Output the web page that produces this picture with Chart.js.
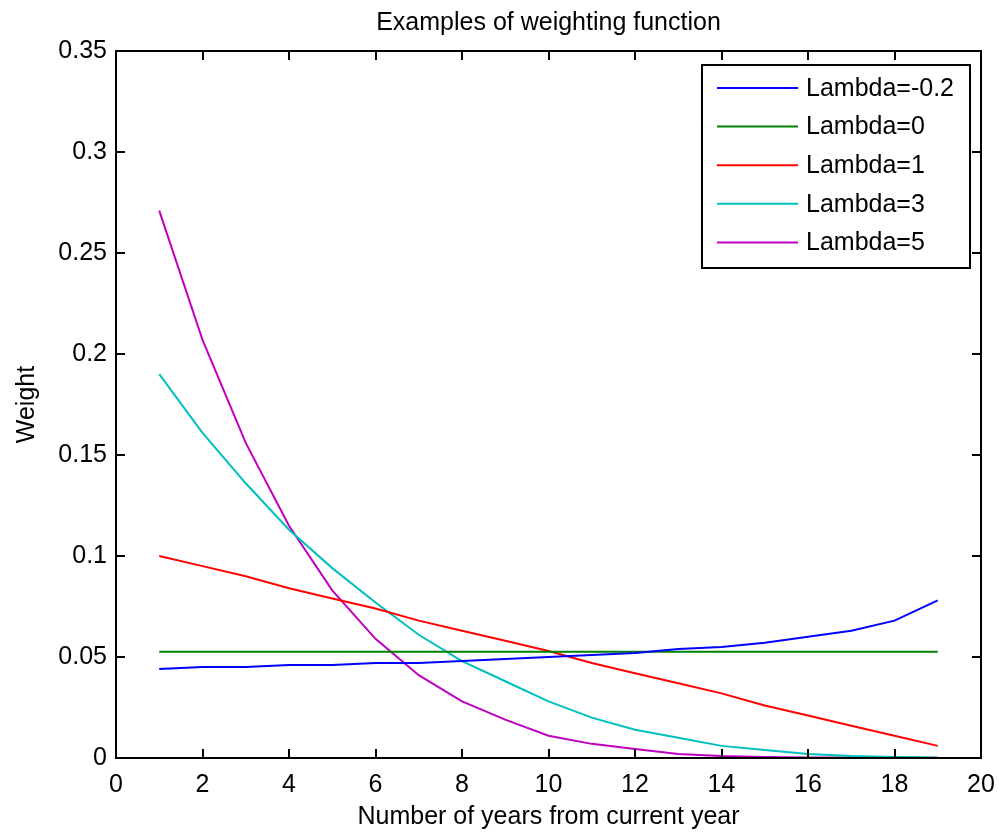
<!DOCTYPE html>
<html>
<head>
<meta charset="utf-8">
<script src="https://cdn.jsdelivr.net/npm/chart.js@4/dist/chart.umd.min.js"></script>
<style>
  body { margin: 0; background: #fff; }
  #wrap { width: 999px; height: 832px; }
</style>
</head>
<body>
<div id="wrap"><canvas id="weightChart" width="999" height="832"></canvas></div>
<script>
// years from current year
var years = [1, 2, 3, 4, 5, 6, 7, 8, 9, 10, 11, 12, 13, 14, 15, 16, 17, 18, 19];

// weights
var lambdaNeg02 = [0.044, 0.045, 0.045, 0.046, 0.046, 0.047, 0.047, 0.048, 0.049, 0.050,
                   0.051, 0.052, 0.054, 0.055, 0.057, 0.060, 0.063, 0.068, 0.078];
var lambda0 = [0.0526, 0.0526, 0.0526, 0.0526, 0.0526, 0.0526, 0.0526, 0.0526, 0.0526, 0.0526,
               0.0526, 0.0526, 0.0526, 0.0526, 0.0526, 0.0526, 0.0526, 0.0526, 0.0526];
var lambda1 = [0.100, 0.095, 0.090, 0.084, 0.079, 0.074, 0.068, 0.063, 0.058, 0.053,
               0.047, 0.042, 0.037, 0.032, 0.026, 0.021, 0.016, 0.011, 0.006];
var lambda3 = [0.190, 0.161, 0.136, 0.113, 0.094, 0.077, 0.061, 0.048, 0.038, 0.028,
               0.020, 0.014, 0.010, 0.006, 0.004, 0.002, 0.001, 0.0005, 0.0003];
var lambda5 = [0.271, 0.207, 0.156, 0.115, 0.083, 0.059, 0.041, 0.028, 0.019, 0.011,
               0.007, 0.0045, 0.002, 0.001, 0.0005, 0.0003, 0.0002, 0.0001, 0.0001];

var seriesLabels = ["Lambda=-0.2", "Lambda=0", "Lambda=1", "Lambda=3", "Lambda=5"];
var seriesColors = ["#0000ff", "#008000", "#ff0000", "#00bfbf", "#bf00bf"];
var seriesValues = [lambdaNeg02, lambda0, lambda1, lambda3, lambda5];

var FONT = "'Liberation Sans', Arial, sans-serif";
var FS = 25;

function toPoints(vals) {
    return years.map(function (yr, i) { return { x: yr, y: vals[i] }; });
}

// matlab style box, inward ticks and boxed legend
var matlabBox = {
    id: "matlabBox",
    afterDatasetsDraw: function (chart) {
        var ctx = chart.ctx;
        var a = chart.chartArea;
        var xs = chart.scales.x, ys = chart.scales.y;
        var tl = 9;
        ctx.save();
        ctx.strokeStyle = "#000";
        ctx.lineWidth = 2;
        ctx.beginPath();
        xs.ticks.forEach(function (t) {
            var px = Math.round(xs.getPixelForValue(t.value));
            ctx.moveTo(px, a.bottom); ctx.lineTo(px, a.bottom - tl);
            ctx.moveTo(px, a.top); ctx.lineTo(px, a.top + tl);
        });
        ys.ticks.forEach(function (t) {
            var py = Math.round(ys.getPixelForValue(t.value));
            ctx.moveTo(a.left, py); ctx.lineTo(a.left + tl, py);
            ctx.moveTo(a.right, py); ctx.lineTo(a.right - tl, py);
        });
        ctx.stroke();
        ctx.strokeRect(a.left, a.top, a.right - a.left, a.bottom - a.top);

        // legend
        var lx = a.right - 279, ly = a.top + 14, lw = 268, lh = 203;
        ctx.fillStyle = "#fff";
        ctx.fillRect(lx, ly, lw, lh);
        ctx.strokeRect(lx, ly, lw, lh);
        ctx.font = FS + "px " + FONT;
        ctx.textBaseline = "middle";
        ctx.textAlign = "left";
        chart.data.datasets.forEach(function (ds, i) {
            var cy = ly + 23 + i * 38.6;
            ctx.strokeStyle = ds.borderColor;
            ctx.lineWidth = 2;
            ctx.beginPath();
            ctx.moveTo(lx + 15, cy); ctx.lineTo(lx + 96, cy);
            ctx.stroke();
            ctx.fillStyle = "#000";
            ctx.fillText(ds.label, lx + 104, cy + 1);
        });
        ctx.restore();
    }
};

var ctx = document.getElementById("weightChart").getContext("2d");
var weightChart = new Chart(ctx, {
    type: "line",
    data: {
        datasets: seriesLabels.map(function (lab, i) {
            return {
                label: lab,
                data: toPoints(seriesValues[i]),
                borderColor: seriesColors[i],
                backgroundColor: seriesColors[i],
                borderWidth: 2,
                pointRadius: 0,
                tension: 0,
                fill: false
            };
        })
    },
    options: {
        responsive: false,
        animation: false,
        layout: { padding: { left: 0, right: 18, top: 0, bottom: 0 } },
        plugins: {
            legend: { display: false },
            tooltip: { enabled: false },
            title: {
                display: true,
                text: "Examples of weighting function",
                color: "#000",
                fullSize: false,
                font: { family: FONT, size: FS, weight: "normal", lineHeight: 1.2 },
                padding: { top: 8, bottom: 13 }
            }
        },
        scales: {
            x: {
                type: "linear",
                min: 0,
                max: 20,
                grid: { display: false, drawTicks: false },
                border: { display: false },
                ticks: {
                    stepSize: 2,
                    color: "#000",
                    padding: 12,
                    maxRotation: 0,
                    font: { family: FONT, size: FS }
                },
                title: {
                    display: true,
                    text: "Number of years from current year",
                    color: "#000",
                    font: { family: FONT, size: FS },
                    padding: { top: 0, bottom: 0 }
                },
                afterFit: function (s) {
                    s.height = 74;
                    s.paddingLeft = 0;
                    s.paddingRight = 0;
                }
            },
            y: {
                min: 0,
                max: 0.35,
                grid: { display: false, drawTicks: false },
                border: { display: false },
                ticks: {
                    stepSize: 0.05,
                    color: "#000",
                    padding: 9,
                    font: { family: FONT, size: FS },
                    callback: function (v) { return String(+v.toFixed(2)); }
                },
                title: {
                    display: true,
                    text: "Weight",
                    color: "#000",
                    font: { family: FONT, size: FS },
                    padding: { top: 12, bottom: 0 }
                },
                afterFit: function (s) {
                    s.width = 116;
                    s.paddingTop = 0;
                    s.paddingBottom = 0;
                }
            }
        }
    },
    plugins: [matlabBox]
});
</script>
</body>
</html>
